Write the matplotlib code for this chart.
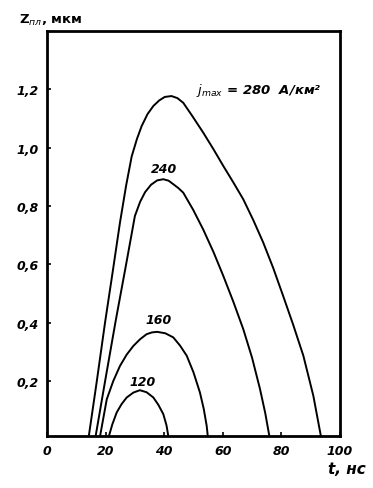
import matplotlib
matplotlib.use('Agg')
import matplotlib.pyplot as plt

# traced curves (t in ns, z in um)
t_280 = [14.1, 17.0, 19.8, 22.5, 24.9, 27.0, 28.9, 30.7, 32.3, 34.3, 36.3, 38.3, 40.2, 42.5,
         44.5, 46.5, 49.5, 53.3, 56.8, 60.2, 63.6, 67.0, 70.4, 73.8, 77.2, 80.6, 84.0, 87.5,
         90.9, 93.7]
z_280 = [0.0, 0.20, 0.40, 0.58, 0.743, 0.87, 0.97, 1.03, 1.074, 1.115, 1.143, 1.162, 1.174, 1.177,
         1.170, 1.154, 1.11, 1.052, 0.995, 0.937, 0.881, 0.823, 0.752, 0.675, 0.588, 0.492, 0.394, 0.287,
         0.15, 0.0]

t_240 = [16.4, 20.0, 23.5, 27.0, 30.0, 31.8, 33.5, 35.5, 37.6, 39.7, 41.5, 43.1, 44.8, 46.5,
         49.9, 53.3, 56.8, 60.2, 63.6, 67.0, 70.0, 72.7, 74.5, 76.1]
z_240 = [0.0, 0.21, 0.41, 0.60, 0.766, 0.815, 0.848, 0.873, 0.888, 0.892, 0.887, 0.875, 0.862, 0.846,
         0.787, 0.72, 0.643, 0.56, 0.472, 0.378, 0.280, 0.173, 0.090, 0.0]

t_160 = [17.9, 20.4, 22.6, 24.9, 27.2, 29.5, 31.8, 34.0, 35.8, 37.6, 40.4, 43.1, 45.4, 47.7,
         50.0, 52.2, 53.5, 54.5, 55.0]
z_160 = [0.0, 0.138, 0.200, 0.252, 0.291, 0.321, 0.344, 0.361, 0.367, 0.369, 0.364, 0.350, 0.322, 0.287,
         0.230, 0.161, 0.105, 0.047, 0.0]

t_120 = [20.8, 22.3, 23.8, 25.5, 27.2, 29.5, 31.7, 34.0, 36.3, 38.0, 39.7, 40.8, 41.6]
z_120 = [0.0, 0.052, 0.093, 0.122, 0.144, 0.161, 0.169, 0.162, 0.144, 0.119, 0.087, 0.048, 0.0]

curve_labels = ['240', '160', '120']
label_pos = [(39.8, 0.93), (38.0, 0.41), (32.5, 0.20)]

xticks = [0, 20, 40, 60, 80, 100]
yticks = [0.2, 0.4, 0.6, 0.8, 1.0, 1.2]
ytick_labels = ['0,2', '0,4', '0,6', '0,8', '1,0', '1,2']

fig = plt.figure(figsize=(3.73, 4.89), dpi=100)
ax = fig.add_axes([0.126, 0.1063, 0.7855, 0.8283])

for t, z in [(t_280, z_280), (t_240, z_240), (t_160, z_160), (t_120, z_120)]:
    ax.plot(t, z, color='black', lw=1.4)

for lab, (x, y) in zip(curve_labels, label_pos):
    ax.text(x, y, lab, ha='center', va='center', fontsize=9,
            fontweight='bold', fontstyle='italic')

ax.text(51, 1.2, r'$j_{max}$ = 280  A/км²', ha='left', va='center',
        fontsize=9.5, fontweight='bold', fontstyle='italic')

ax.set_xlim(0, 100)
ax.set_ylim(0.012, 1.4)
ax.set_xticks(xticks)
ax.set_xticklabels([str(v) for v in xticks])
ax.set_yticks(yticks)
ax.set_yticklabels(ytick_labels)
for lbl in ax.get_xticklabels() + ax.get_yticklabels():
    lbl.set_fontweight('bold')
    lbl.set_fontstyle('italic')
    lbl.set_fontsize(9)
ax.tick_params(direction='in', length=3, width=1.2, pad=6)
for s in ax.spines.values():
    s.set_linewidth(2)

fig.text(0.05, 0.958, r'Z$_{пл}$, мкм', fontsize=9.5, fontweight='bold',
         ha='left', va='center')
fig.text(0.98, 0.04, 't, нс', fontsize=11, fontweight='bold',
         fontstyle='italic', ha='right', va='center')

fig.savefig('out.png', dpi=100)
